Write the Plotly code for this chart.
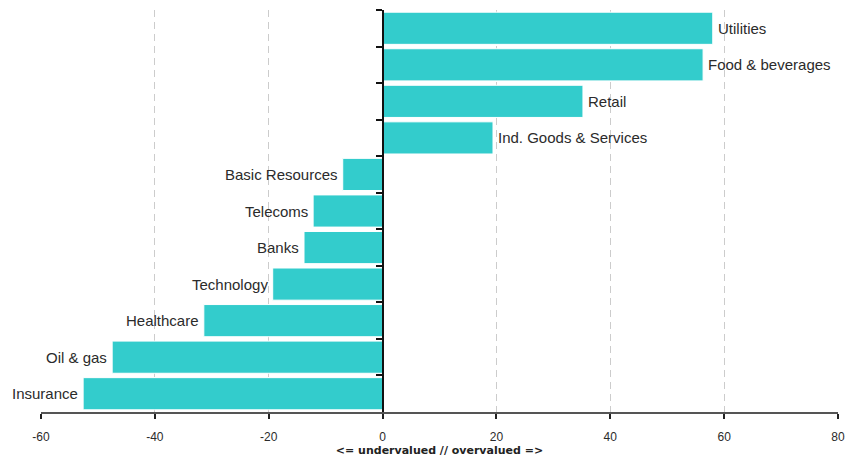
import plotly.graph_objects as go

categories = ["Utilities", "Food & beverages", "Retail", "Ind. Goods & Services",
              "Basic Resources", "Telecoms", "Banks", "Technology",
              "Healthcare", "Oil & gas", "Insurance"]
values = [58.0, 56.3, 35.2, 19.4, -7.0, -12.2, -13.8, -19.3, -31.4, -47.5, -52.6]
x_ticks = [-60, -40, -20, 0, 20, 40, 60, 80]
x_title = "<= undervalued // overvalued =>"

x_min, x_max = -60, 80
bar_color = "#33CCCC"
text_color = "#2b2b2b"

fig = go.Figure()
fig.add_trace(go.Bar(
    x=values, y=categories, orientation="h",
    marker=dict(color=bar_color, line=dict(color="white", width=1)),
    hoverinfo="x+y",
))

annotations = []
for c, v in zip(categories, values):
    annotations.append(dict(
        x=v, y=c, xref="x", yref="y", text=c, showarrow=False,
        xanchor="left" if v >= 0 else "right",
        xshift=3 if v >= 0 else -3,
        yanchor="middle",
        font=dict(family="Liberation Sans", size=15, color=text_color),
    ))

# page body has an 8px default margin, so the figure is sized to fit inside it
fig.update_layout(
    width=850, height=450,
    margin=dict(l=33, r=20, t=2, b=46),
    paper_bgcolor="white", plot_bgcolor="white",
    showlegend=False,
    bargap=0.12,
    annotations=annotations,
    xaxis=dict(
        range=[x_min, x_max],
        tickvals=x_ticks,
        ticktext=[str(t) for t in x_ticks],
        showgrid=True, gridcolor="#cccccc", gridwidth=1, griddash="7px,5px",
        zeroline=False,
        showline=True, linecolor="#555555", linewidth=2,
        ticks="outside", ticklen=5, tickwidth=2, tickcolor="#222222",
        ticklabelstandoff=8,
        tickfont=dict(family="Liberation Sans", size=12, color=text_color),
        title=dict(text=x_title, standoff=2,
                   font=dict(family="DejaVu Sans", size=11, color="#222222", weight="bold")),
        fixedrange=True,
    ),
    yaxis=dict(
        type="category",
        categoryorder="array", categoryarray=categories,
        autorange="reversed",
        anchor="free",
        position=(0 - x_min) / (x_max - x_min),
        showgrid=False, zeroline=False,
        showline=True, linecolor="#111111", linewidth=2,
        ticks="outside", tickson="boundaries", ticklen=6, tickwidth=2, tickcolor="#111111",
        showticklabels=False,
        fixedrange=True,
    ),
)

fig.write_html("out.html")
